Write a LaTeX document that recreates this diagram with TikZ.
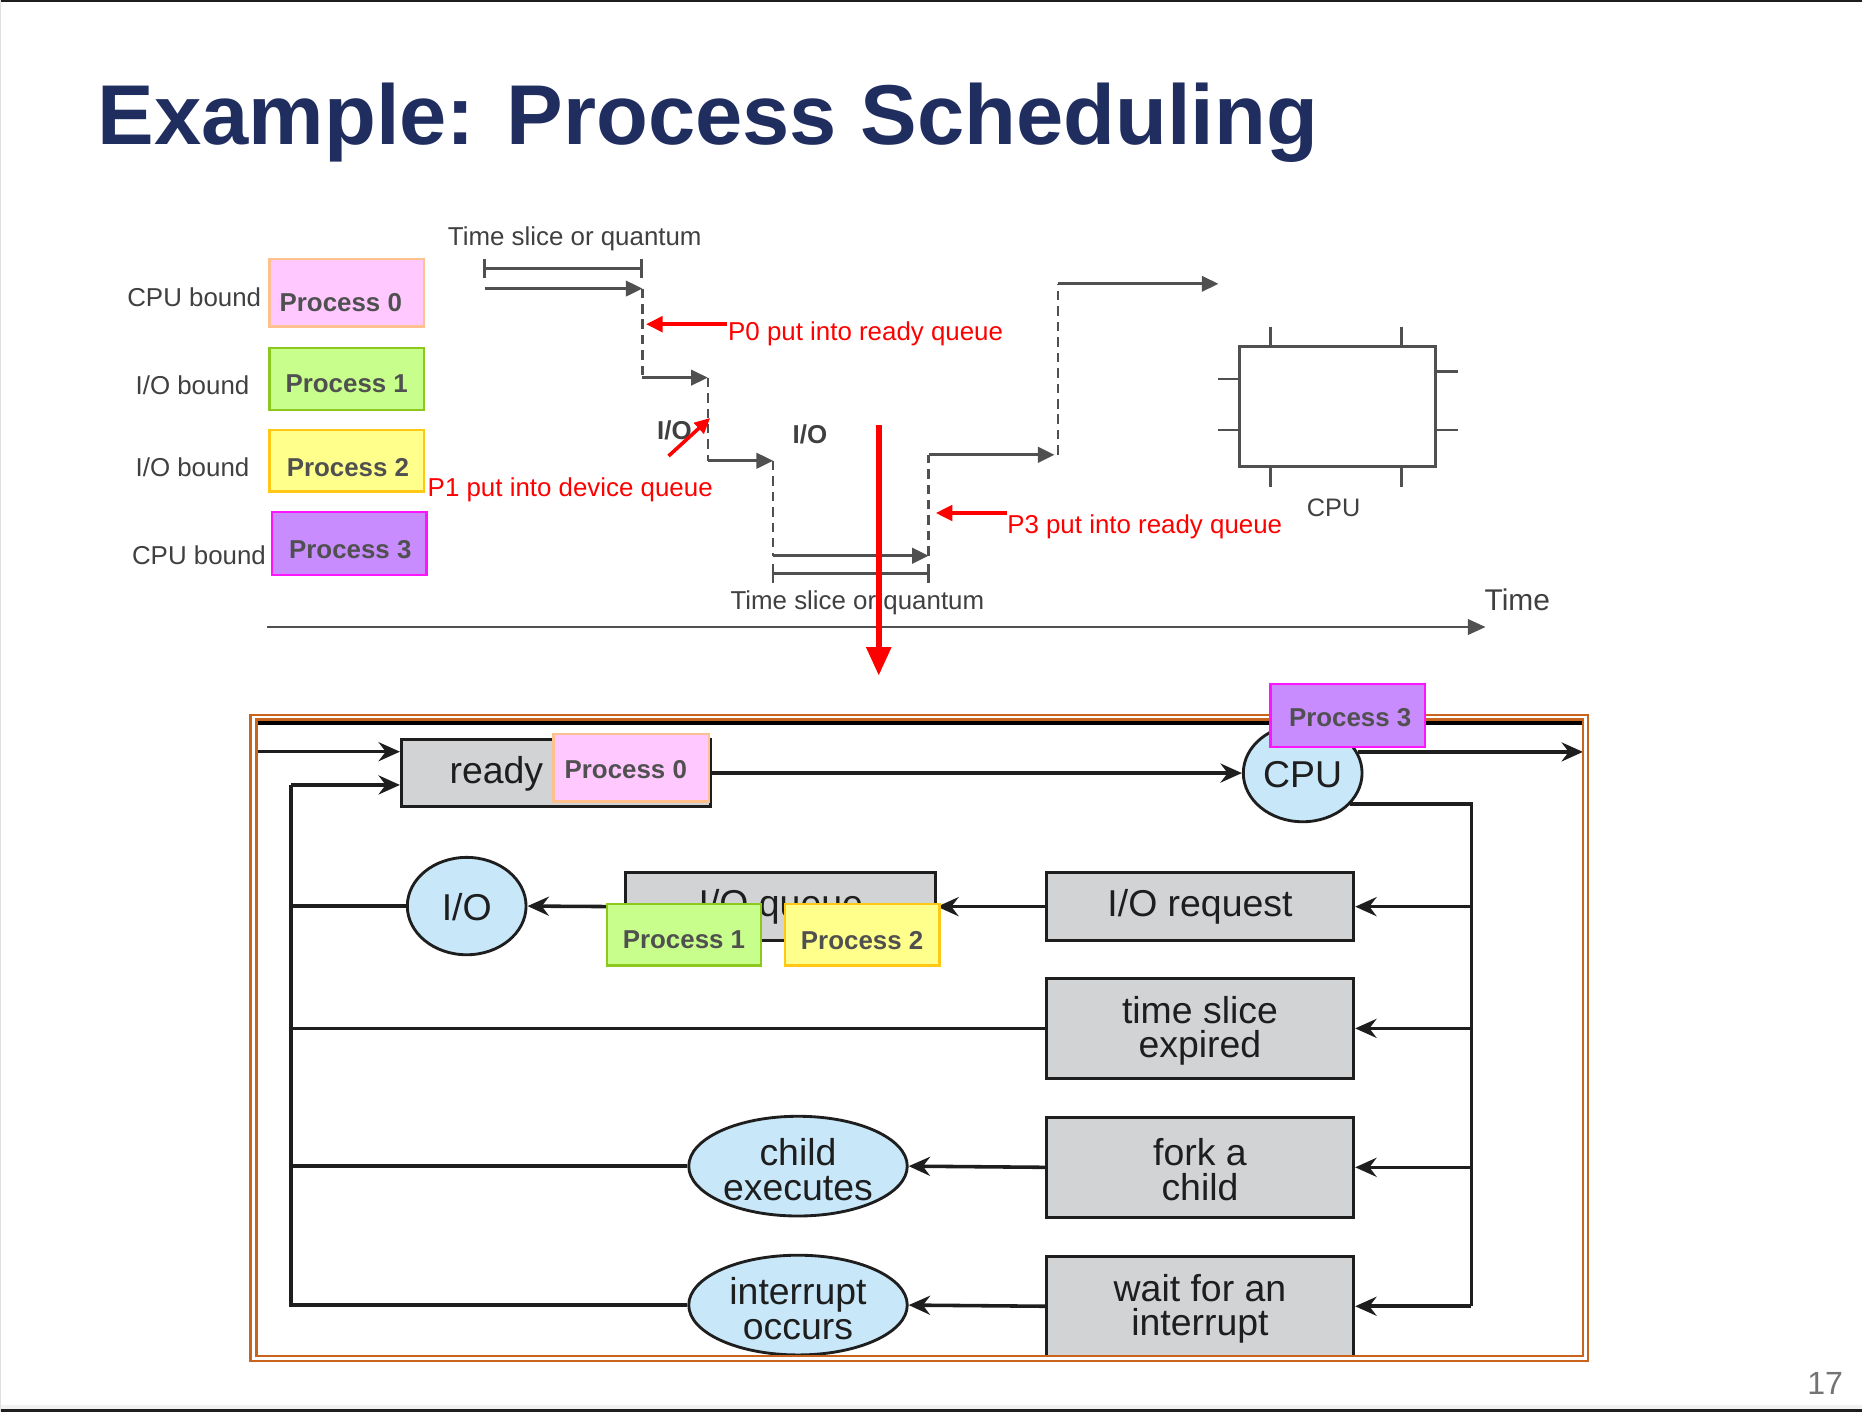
\documentclass[tikz,border=0pt]{standalone}
\usepackage{fontspec}
\setmainfont{Liberation Sans}
\usetikzlibrary{arrows.meta,shapes.geometric,calc}
\definecolor{navy}{RGB}{32,45,95}
\definecolor{lgray}{RGB}{80,80,80}
\definecolor{lbl}{RGB}{64,64,64}
\definecolor{ptx}{RGB}{80,80,80}
\definecolor{pinkF}{RGB}{255,200,255}
\definecolor{pinkD}{RGB}{255,192,144}
\definecolor{greenF}{RGB}{200,255,140}
\definecolor{greenD}{RGB}{140,200,30}
\definecolor{yelF}{RGB}{255,255,140}
\definecolor{yelD}{RGB}{255,200,20}
\definecolor{purF}{RGB}{200,140,255}
\definecolor{purD}{RGB}{255,20,255}
\definecolor{boxF}{RGB}{210,211,213}
\definecolor{bluF}{RGB}{200,232,250}
\definecolor{orng}{RGB}{200,100,30}
\definecolor{dk}{RGB}{30,30,30}
\tikzset{
  small/.style={font=\fontsize{21.8}{24}\selectfont, text=lbl, inner sep=0pt},
  redtxt/.style={font=\fontsize{21.8}{24}\selectfont, text=red, inner sep=0pt},
  ptext/.style={font=\fontsize{21.8}{24}\selectfont\bfseries, text=ptx, inner sep=0pt},
  pbox/.style={draw, line width=2pt, minimum width=130pt, minimum height=52pt, inner sep=0pt},
  garr/.style={draw=lgray, line width=2.4pt, -{Triangle[length=14pt,width=13pt]}},
  gline/.style={draw=lgray, line width=2.2pt},
  gdash/.style={draw=lgray, line width=2pt, dash pattern=on 8pt off 5pt},
  rarr/.style={draw=red, line width=3.2pt, -{Triangle[length=14pt,width=13pt]}},
  big/.style={font=\fontsize{31.5}{29}\selectfont, text=dk},
  gbox/.style={draw=dk, fill=boxF, line width=2.4pt, big, align=center, inner sep=0pt},
  ell/.style={ellipse, draw=dk, fill=bluF, line width=2.4pt, inner sep=0pt},
  barr/.style={draw=dk, line width=3pt, -{Stealth[length=18pt,width=16pt,inset=6pt]}},
  bline/.style={draw=dk, line width=3pt},
}
\begin{document}
\begin{tikzpicture}[x=1pt,y=-1pt]
\useasboundingbox (0,0) rectangle (1568,1189);
\fill[white] (0,0) rectangle (1568,1189);
% page frame
\draw[line width=3pt, draw=dk] (0,0.5) -- (1568,0.5);
\fill[black!5] (0,1183) rectangle (1568,1189);
\draw[line width=2.5pt, draw=dk] (0,1188) -- (1568,1188);
\draw[line width=1pt, draw=black!12] (0.5,0) -- (0.5,1189);

% title
\node[anchor=base west, inner sep=0pt, text=navy, font=\fontsize{71.5}{80}\selectfont\bfseries] (title) at (82,122) {Example: Process Scheduling};
\node[inner sep=0pt, text=black!55, font=\fontsize{27}{30}\selectfont] (pnum) at (1537,1165) {17};

% ---------- top: process list ----------
\node[small, anchor=base west] (l0) at (107,258) {CPU bound};
\node[small, anchor=base west] (l1) at (114,332) {I/O bound};
\node[small, anchor=base west] (l2) at (114,401) {I/O bound};
\node[small, anchor=base west] (l3) at (111,475) {CPU bound};

\node[pbox, draw=pinkD, fill=pinkF, minimum height=57pt] (p0) at (292,246.5) {};
\node[ptext] (p0t) at (287,255) {Process 0};
\node[pbox, draw=greenD, fill=greenF] (p1) at (292,319) {};
\node[ptext] (p1t) at (292,323) {Process 1};
\node[pbox, draw=yelD, fill=yelF] (p2) at (292,388) {};
\node[ptext] (p2t) at (293,394) {Process 2};
\node[pbox, draw=purD, fill=purF, minimum height=53pt] (p3) at (294,457.5) {};
\node[ptext] (p3t) at (295,463) {Process 3};

% ---------- top: time line ----------
\node[small, anchor=base] (ts1) at (484,207) {Time slice or quantum};
\draw[gline] (408,218) -- (408,234) (408,226) -- (540,226) (540,218) -- (540,234);
\coordinate (a0) at (408,243);
\coordinate (a1) at (541,243);
\coordinate (a2) at (541,318);
\coordinate (a3) at (596,318);
\coordinate (a4) at (596,388);
\coordinate (a5) at (651,388);
\coordinate (a6) at (651,468);
\coordinate (a7) at (782,468);
\coordinate (a8) at (782,383);
\coordinate (a9) at (888,383);
\coordinate (a10) at (891,383);
\coordinate (a11) at (891,239);
\coordinate (a12) at (1026,239);
\draw[garr] (a0) -- (a1);
\draw[gdash] (a1) -- (a2);
\draw[garr] (a2) -- (a3);
\draw[gdash] (a3) -- (a4);
\draw[garr] (a4) -- (a5);
\draw[gdash] (a5) -- (a6);
\draw[garr] (a6) -- (a7);
\draw[gdash] (a7) -- (a8);
\draw[garr] (a8) -- (a9);
\draw[gdash] (a10) -- (a11);
\draw[garr] (a11) -- (a12);
\draw[gline] (651,475) -- (651,491) (651,483) -- (782,483) (782,475) -- (782,491);
\node[small, anchor=base] (ts2) at (722,513) {Time slice or quantum};

\node[ptext, text=lbl] (io1) at (568,362) {I/O};
\node[ptext, text=lbl] (io2) at (682,366) {I/O};

% red annotations
\node[redtxt, anchor=base west] (r0) at (613,287) {P0 put into ready queue};
\node[redtxt, anchor=base west] (r1) at (360,418) {P1 put into device queue};
\node[redtxt, anchor=base west] (r3) at (848,449) {P3 put into ready queue};
\coordinate (r0s) at (612,273); \coordinate (r0e) at (544,273);
\coordinate (r3s) at (848,432); \coordinate (r3e) at (788,432);
\coordinate (r1s) at (563,384); \coordinate (r1e) at (598,352);
\draw[rarr] (r0s) -- (r0e);
\draw[rarr] (r3s) -- (r3e);
\draw[draw=red, line width=3pt, -{Triangle[length=13pt,width=12pt]}] (r1s) -- (r1e);

% time axis
\coordinate (t0) at (225,528); \coordinate (t1) at (1251,528);
\draw[draw=lgray, line width=2.4pt, -{Triangle[length=15pt,width=13pt]}] (t0) -- (t1);
\node[inner sep=0pt, text=lbl, font=\fontsize{25.2}{28}\selectfont, anchor=base west] (time) at (1250,514) {Time};

% CPU chip
\node[draw=lgray, line width=2.4pt, minimum width=165pt, minimum height=101pt, inner sep=0pt] (chip) at (1126.5,342.5) {};
\draw[gline] (1070,275) -- (1070,292) (1180,275) -- (1180,292)
             (1070,393) -- (1070,410) (1180,393) -- (1180,410)
             (1026,319) -- (1044,319) (1026,362) -- (1044,362)
             (1209,313) -- (1228,313) (1209,362) -- (1228,362);
\node[small, font=\fontsize{21.3}{24}\selectfont] (cpul) at (1123,428) {CPU};

% big red arrow
\coordinate (bs) at (740,358); \coordinate (be) at (740,569);
\draw[draw=red, line width=5pt, -{Triangle[length=24pt,width=20pt]}] (bs) -- (be);

% ---------- bottom: queueing diagram ----------
\draw[draw=orng, line width=2pt] (211,602) rectangle (1337,1146);
\draw[draw=orng, line width=2pt] (216,606) rectangle (1333,1142);
\draw[draw=black, line width=3.5pt] (217,609) -- (1332,609);

\begin{scope}
\clip (217,607) rectangle (1332,1141);
\node[gbox, minimum width=260pt, minimum height=56pt] (ready) at (468,651) {};
\node[big, inner sep=0pt] (readyt) at (418,652) {ready};
\node[ell, minimum width=100pt, minimum height=82pt] (cpu) at (1097,651) {};
\node[big, inner sep=0pt] (cput) at (1097,652) {CPU};
\node[gbox, minimum width=261pt, minimum height=57pt] (ioq) at (657.5,763.5) {I/O queue};
\node[ell, minimum width=100pt, minimum height=82pt] (io) at (393,763) {};
\node[big, inner sep=0pt] (iot) at (393,764) {I/O};
\node[gbox, minimum width=259pt, minimum height=57pt] (ioreq) at (1010.5,763.5) {\raisebox{-2pt}{I/O request}};
\node[gbox, minimum width=259pt, minimum height=84pt] (tse) at (1010.5,866) {};
\node[big, inner sep=0pt, align=center] (tset) at (1010.5,868) {time slice\\expired};
\node[gbox, minimum width=259pt, minimum height=84pt] (fork) at (1010.5,983) {};
\node[big, inner sep=0pt, align=center] (forkt) at (1010.5,985) {fork a\\child};
\node[gbox, minimum width=259pt, minimum height=84pt] (wait) at (1010.5,1100) {};
\node[big, inner sep=0pt, align=center] (waitt) at (1010.5,1102) {wait for an\\interrupt};
\node[ell, minimum width=184pt, minimum height=84pt] (child) at (672,982) {};
\node[big, inner sep=0pt, align=center] (childt) at (672,985) {child\\executes};
\node[ell, minimum width=184pt, minimum height=84pt] (intr) at (672,1099) {};
\node[big, inner sep=0pt, align=center] (intrt) at (672,1102) {interrupt\\occurs};

\coordinate (inL) at (217,633);
\coordinate (loopTop) at (245,661);
\coordinate (outR) at (1333,636);
\coordinate (rv) at (1239,673);

\draw[barr] (inL) -- (inL -| ready.west);
\draw[bline] (intr.west) -| (loopTop);
\draw[barr] (loopTop) -- (loopTop -| ready.west);
\draw[bline] (child.west) -- (child.west -| loopTop);
\draw[bline] (tse.west) -- (tse.west -| loopTop);
\draw[bline] (io.west) -- (io.west -| loopTop);
\draw[barr] (ready.east) -- (cpu.west);
\draw[barr] (cpu.21) -- (cpu.21 -| outR);
\draw[bline] (cpu.-33) -- (cpu.-33 -| rv) -- (rv |- wait.east);
\draw[barr] (rv |- ioreq.east) -- (ioreq.east);
\draw[barr] (rv |- tse.east) -- (tse.east);
\draw[barr] (rv |- fork.east) -- (fork.east);
\draw[barr] (rv |- wait.east) -- (wait.east);
\draw[barr] (ioreq.west) -- (ioq.east);
\draw[barr] (ioq.west) -- (io.east);
\draw[barr] (fork.west) -- (child.east);
\draw[barr] (wait.west) -- (intr.east);
\end{scope}

% process boxes on the queueing diagram
\node[pbox, draw=pinkD, fill=pinkF, minimum width=131pt, minimum height=57pt] (q0) at (531.5,646.5) {};
\node[ptext] (q0t) at (527,648) {Process 0};
\node[pbox, draw=greenD, fill=greenF] (q1) at (576,787) {};
\node[ptext] (q1t) at (576,791) {Process 1};
\node[pbox, draw=yelD, fill=yelF] (q2) at (726,787) {};
\node[ptext] (q2t) at (726,792) {Process 2};
\node[pbox, draw=purD, fill=purF, minimum height=53pt] (q3) at (1135,602.5) {};
\node[ptext] (q3t) at (1137,604) {Process 3};
\end{tikzpicture}
\end{document}
